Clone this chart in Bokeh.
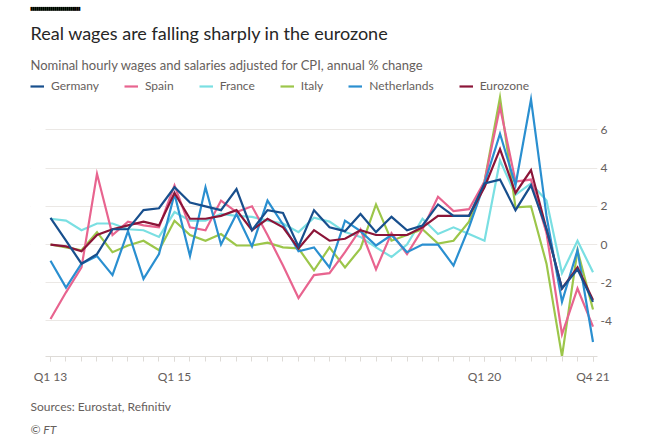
from bokeh.plotting import figure
from bokeh.models import (FixedTicker, Range1d, BoxAnnotation, Title, Legend,
                          LegendItem)
from bokeh.embed import file_html
from bokeh.resources import INLINE

quarters = [f"Q{q} {y}" for y in range(13, 22) for q in range(1, 5)]
shown_labels = ["Q1 13", "Q1 15", "Q1 20", "Q4 21"]
y_ticks = [-4, -2, 0, 2, 4, 6]

germany = [1.4, 0.2, -1.0, -0.5, 0.8, 0.8, 1.8, 1.9, 3.0, 2.2, 2.0, 1.8,
           2.9, 0.75, 1.8, 1.65, -0.1, 1.8, 0.9, 0.7, 1.6, 0.65, 1.45, 0.75,
           1.0, 2.1, 1.5, 1.5, 3.2, 3.4, 1.8, 3.1, 0.8, -2.3, -1.3, -3.0]
spain = [-3.9, -2.5, -1.2, 3.7, 0.5, 1.2, 1.0, 0.9, 3.1, 0.9, 0.75, 2.3,
         1.7, 2.0, 0.5, -1.1, -2.8, -1.6, -1.5, -0.4, 0.8, -1.3, 0.6, -0.5,
         0.8, 2.5, 1.75, 1.85, 3.3, 7.2, 3.3, 3.4, 0.6, -4.7, -2.3, -4.3]
france = [1.35, 1.25, 0.75, 1.1, 1.1, 0.8, 0.75, 0.4, 1.7, 1.25, 1.25, 1.6,
          1.5, 1.45, 1.25, 1.1, 0.65, 1.4, 1.2, 0.65, 0.4, -0.15, -0.65, 0.0,
          1.35, 0.55, 0.9, 0.55, 0.2, 4.4, 2.6, 3.2, 2.3, -1.5, 0.2, -1.45]
italy = [0.0, -0.15, -0.3, 0.65, -0.4, -0.05, 0.2, -0.3, 1.25, 0.5, 0.2, 0.55,
         -0.05, -0.05, 0.1, -0.15, -0.2, -1.35, -0.15, -1.2, -0.2, 2.1, 0.2, 0.5,
         0.8, 0.05, 0.2, 1.2, 3.3, 7.7, 1.95, 2.0, -1.0, -5.85, -0.3, -3.4]
netherlands = [-0.85, -2.25, -1.0, -0.6, -1.6, 0.7, -1.8, -0.5, 2.65, -0.6, 3.0, 0.0,
               1.6, -0.1, 2.3, 1.05, -0.35, -0.15, -1.2, 1.25, 0.7, -0.05, 0.5, -0.4,
               0.0, 0.0, -1.1, 0.9, 3.2, 5.8, 3.1, 7.6, 1.5, -3.0, -0.3, -5.1]
eurozone = [0.0, -0.1, -0.35, 0.5, 0.8, 1.0, 1.2, 1.0, 2.7, 1.35, 1.35, 1.5,
            1.8, 0.75, 1.35, 0.9, -0.2, 0.75, 0.2, 0.3, 0.75, 0.5, 0.5, 0.5,
            0.9, 1.5, 1.5, 1.5, 3.0, 5.0, 2.7, 3.9, 0.8, -2.3, -1.2, -2.9]

names = ["Germany", "Spain", "France", "Italy", "Netherlands", "Eurozone"]
series = [germany, spain, france, italy, netherlands, eurozone]
colors = ["#184f8d", "#e8648f", "#7adfe2", "#9cc64a", "#2a8fd0", "#8b1538"]
draw_order = [2, 3, 1, 4, 5, 0]

FONT = "Lato"
GREY = "#66605c"

X_LO, X_HI = -1.29, 35.29        # frame spans text margin + data
X_DATA_LO = -0.32                # where grid/axis start
Y_LO, Y_HI = -5.86, 8.90

x = list(range(len(quarters)))

p = figure(width=672, height=436,
           x_range=Range1d(X_LO, X_HI), y_range=Range1d(Y_LO, Y_HI),
           y_axis_location="right", output_backend="svg", toolbar_location=None,
           min_border_left=30, min_border_right=75, min_border_top=74,
           min_border_bottom=80)
p.outline_line_color = None
p.background_fill_color = "white"
p.border_fill_color = "white"

p.xgrid.grid_line_color = None
p.ygrid.ticker = FixedTicker(ticks=y_ticks)
p.ygrid.grid_line_color = "#ebe8e5"
p.ygrid.grid_line_width = 1

# white mask so gridlines start where the data area starts
p.add_layout(BoxAnnotation(left=X_LO, right=X_DATA_LO, fill_color="white",
                           fill_alpha=1, line_color=None, level="underlay"))

renderers = {}
for i in draw_order:
    renderers[i] = p.line(x, series[i], line_color=colors[i], line_width=2.2,
                          line_join="miter")

tick_idx = [quarters.index(s) for s in shown_labels]
p.xaxis.ticker = FixedTicker(ticks=tick_idx, minor_ticks=x)
p.xaxis.major_label_overrides = {i: quarters[i] for i in tick_idx}
p.xaxis.bounds = (X_DATA_LO, X_HI)
p.xaxis.axis_line_color = "#dedbd7"
p.xaxis.major_tick_line_color = "#dedbd7"
p.xaxis.minor_tick_line_color = "#dedbd7"
p.xaxis.major_tick_out = 5
p.xaxis.major_tick_in = 0
p.xaxis.minor_tick_out = 5
p.xaxis.minor_tick_in = 0
p.xaxis.major_label_text_font = FONT
p.xaxis.major_label_text_font_size = "12px"
p.xaxis.major_label_text_color = GREY
p.xaxis.major_label_standoff = 7

p.yaxis.ticker = FixedTicker(ticks=y_ticks)
p.yaxis.major_label_overrides = {v: str(v) for v in y_ticks}
p.yaxis.axis_line_color = None
p.yaxis.major_tick_line_color = None
p.yaxis.minor_tick_line_color = None
p.yaxis.major_tick_out = 0
p.yaxis.major_tick_in = 0
p.yaxis.minor_tick_out = 0
p.yaxis.minor_tick_in = 0
p.yaxis.major_label_text_font = FONT
p.yaxis.major_label_text_font_size = "12px"
p.yaxis.major_label_text_color = GREY
p.yaxis.major_label_standoff = 3

legend = Legend(items=[LegendItem(label=names[i], renderers=[renderers[i]]) for i in range(6)],
                orientation="horizontal", location=(0, 263),
                margin=0, padding=0, spacing=25, glyph_width=14, glyph_height=14,
                label_height=14, label_width=10, label_standoff=7,
                border_line_color=None, background_fill_alpha=0,
                label_text_font=FONT, label_text_font_size="12px",
                label_text_color=GREY, label_text_baseline="middle")
p.add_layout(legend)

# titles above (first added sits closest to the plot)
p.add_layout(Title(text="Nominal hourly wages and salaries adjusted for CPI, annual % change",
                   align="left", offset=0, text_font=FONT, text_font_size="13px",
                   text_font_style="normal", text_color=GREY, standoff=4), "above")
p.add_layout(Title(text="Real wages are falling sharply in the eurozone",
                   align="left", offset=0, text_font=FONT, text_font_size="18px",
                   text_font_style="normal", text_color="#262626", standoff=17), "above")
p.add_layout(Title(text="\u2588" * 25, align="left", offset=0,
                   text_font="DejaVu Sans Mono", text_font_size="3.322px",
                   text_color="#000000", standoff=2), "above")

# footer below the axis
p.add_layout(Title(text="Sources: Eurostat, Refinitiv", align="left", offset=0,
                   text_font=FONT, text_font_size="12px", text_font_style="normal",
                   text_color=GREY, standoff=20), "below")
p.add_layout(Title(text="\u00a9 FT", align="left", offset=0,
                   text_font=FONT, text_font_size="12px", text_font_style="italic",
                   text_color=GREY, standoff=-8), "below")

open("out.html", "w").write(file_html(p, INLINE))
